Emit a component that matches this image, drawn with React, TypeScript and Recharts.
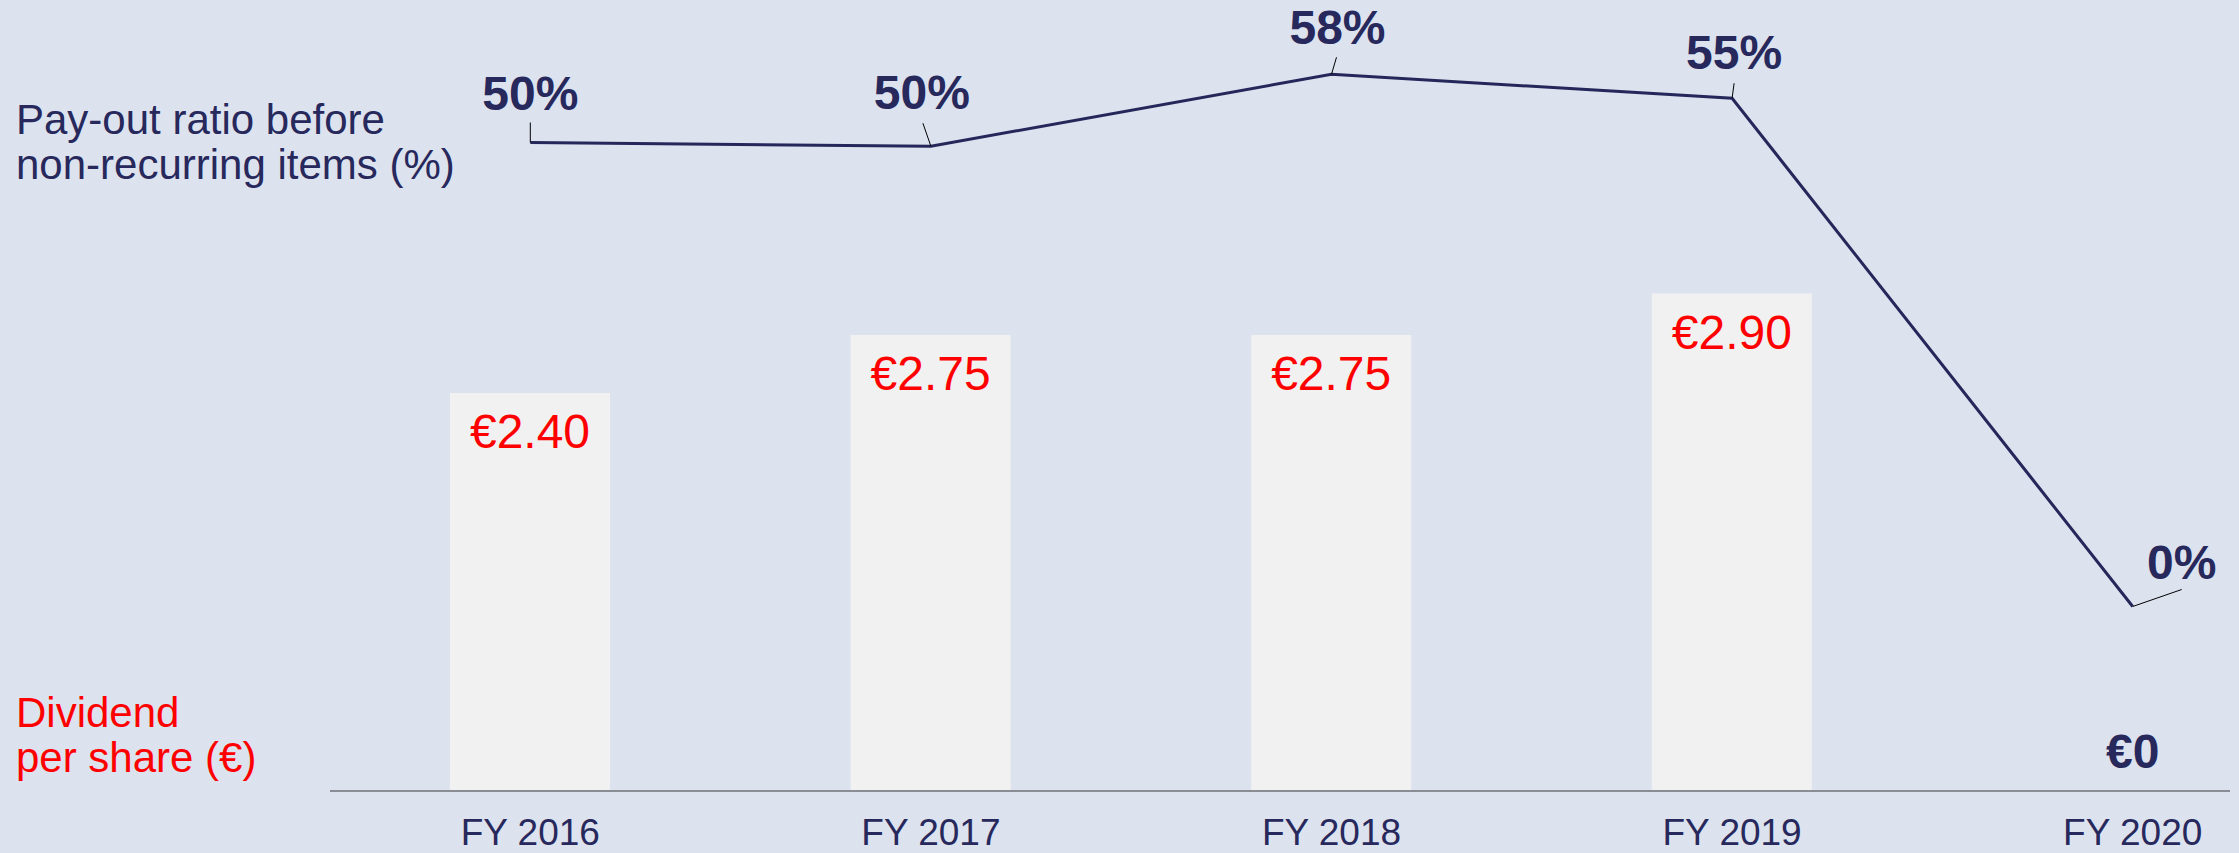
import React from "react";
import { Bar, ComposedChart, LabelList, Line, XAxis, YAxis } from "recharts";

const years = ["FY 2016", "FY 2017", "FY 2018", "FY 2019", "FY 2020"];
const dividend = [2.4, 2.75, 2.75, 3.0, 0];
const dividendLabels = ["€2.40", "€2.75", "€2.75", "€2.90", "€0"];
const payout = [50.3, 49.9, 57.7, 55.1, 0];
const payoutLabels = ["50%", "50%", "58%", "55%", "0%"];

const NAVY = "#27285c";
const RED = "#ff0000";
const BG = "#dce2ee";
const FONT = '"Liberation Sans", Arial, sans-serif';

// where each pay-out label sits relative to its point: [labelDx, baselineDy, leaderDx, leaderDy]
const payoutNudge = [
  [0, -33, 0, -20],
  [-9, -37, -8, -23],
  [6, -30, 5, -17],
  [2, -29, 2, -15],
  [49, -28, 49, -17],
];

const data = years.map((year, i) => ({ year, dividend: dividend[i], payout: payout[i] }));

const YearTick = ({ x, y, payload }: any) => (
  <text x={x} y={y + 54} textAnchor="middle" fontSize={37} fill={NAVY} fontFamily={FONT}>
    {payload.value}
  </text>
);

// red value printed inside the top of each bar
const DividendLabel = ({ x, y, width, index }: any) => {
  if (!dividend[index]) return null;
  return (
    <text x={x + width / 2} y={y + 55} textAnchor="middle" fontSize={48} fill={RED} fontFamily={FONT}>
      {dividendLabels[index]}
    </text>
  );
};

// a zero dividend has no bar, so its label sits just above the axis
const ZeroDividendLabel = ({ x, y, index }: any) => {
  if (dividend[index] !== 0) return null;
  return (
    <text x={x} y={y - 23} textAnchor="middle" fontSize={48} fontWeight="bold" fill={NAVY} fontFamily={FONT}>
      {dividendLabels[index]}
    </text>
  );
};

const PayoutLabel = ({ x, y, index }: any) => {
  const [ldx, ldy, kdx, kdy] = payoutNudge[index];
  return (
    <g>
      <line x1={x} y1={y} x2={x + kdx} y2={y + kdy} stroke="#000" strokeWidth={1} />
      <text x={x + ldx} y={y + ldy} textAnchor="middle" fontSize={48} fontWeight="bold" fill={NAVY} fontFamily={FONT}>
        {payoutLabels[index]}
      </text>
    </g>
  );
};

export default function App() {
  return (
    <div style={{ position: "absolute", left: 0, top: 0, width: 2239, height: 853, background: BG, fontFamily: FONT }}>
      <div style={{ position: "absolute", left: 0, top: 0, width: 2230, height: 853, overflow: "hidden" }}>
        <ComposedChart width={2333} height={853} data={data} margin={{ top: 0, right: 0, bottom: 0, left: 330 }} barSize={160}>
          <XAxis
            dataKey="year"
            interval={0}
            height={62}
            tickLine={false}
            tickSize={0}
            tickMargin={0}
            axisLine={{ stroke: "#8b8d94", strokeWidth: 2 }}
            tick={<YearTick />}
          />
          <YAxis yAxisId="left" hide domain={[0, 4.77]} />
          <YAxis yAxisId="right" hide orientation="right" domain={[-20, 65.75]} />
          <Bar yAxisId="left" dataKey="dividend" fill="#f1f1f1" isAnimationActive={false}>
            <LabelList dataKey="dividend" content={<DividendLabel />} />
          </Bar>
          <Line
            yAxisId="left"
            type="linear"
            dataKey="dividend"
            stroke="none"
            dot={false}
            activeDot={false}
            legendType="none"
            isAnimationActive={false}
          >
            <LabelList dataKey="dividend" content={<ZeroDividendLabel />} />
          </Line>
          <Line
            yAxisId="right"
            type="linear"
            dataKey="payout"
            stroke="#25275a"
            strokeWidth={3}
            dot={false}
            isAnimationActive={false}
          >
            <LabelList dataKey="payout" content={<PayoutLabel />} />
          </Line>
        </ComposedChart>
      </div>
      <svg width={2239} height={853} style={{ position: "absolute", left: 0, top: 0, pointerEvents: "none" }}>
        <g fontFamily={FONT} fontSize={42}>
          <text x={16} y={134} fill={NAVY}>Pay-out ratio before</text>
          <text x={16} y={179} fill={NAVY}>non-recurring items (%)</text>
          <text x={16} y={727} fill={RED}>Dividend</text>
          <text x={16} y={772} fill={RED}>per share (€)</text>
        </g>
      </svg>
    </div>
  );
}
